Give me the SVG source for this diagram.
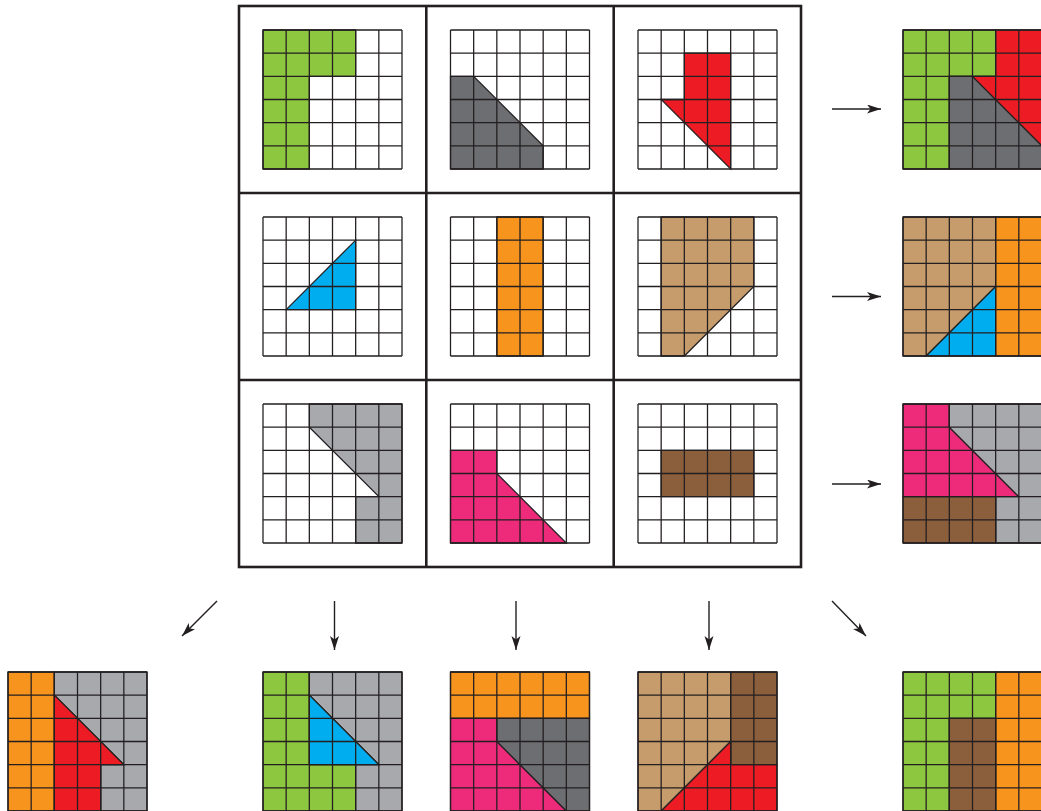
<svg xmlns="http://www.w3.org/2000/svg" xmlns:xlink="http://www.w3.org/1999/xlink" width="1041" height="811" viewBox="0 0 1041 811">
<style>
.s{stroke:#231F20;stroke-width:0.055;stroke-linejoin:miter}
.gr{fill:#8DC63F}.dg{fill:#6D6E71}.rd{fill:#ED1C24}.bl{fill:#00AEEF}.or{fill:#F7941D}
.tn{fill:#C69C6D}.lg{fill:#A7A9AC}.pk{fill:#EE2A7B}.br{fill:#8B5E3C}
.bg{fill:#FFFFFF}
.frame{fill:none;stroke:#231F20;stroke-width:2.6}
.arr{stroke:#231F20;stroke-width:1.4;fill:none;marker-end:url(#ah)}
</style>
<defs>
<marker id="ah" markerUnits="userSpaceOnUse" markerWidth="16" markerHeight="10" refX="14" refY="4.5" orient="auto">
<path d="M0,0 L14,4.5 L0,9 L3.5,4.5 z" fill="#231F20"/>
</marker>
<path id="grid" d="M0 0H6M0 1H6M0 2H6M0 3H6M0 4H6M0 5H6M0 6H6M0 0V6M1 0V6M2 0V6M3 0V6M4 0V6M5 0V6M6 0V6" fill="none" stroke="#231F20" stroke-width="0.055"/>
<rect id="blank" width="6" height="6" class="bg"/>
</defs>
<rect width="1041" height="811" fill="#FFFFFF"/>

<g id="frame">
<rect x="239" y="6" width="562" height="561" class="frame"/>
<line x1="426.3" y1="6" x2="426.3" y2="567" class="frame"/>
<line x1="613.7" y1="6" x2="613.7" y2="567" class="frame"/>
<line x1="239" y1="193" x2="801" y2="193" class="frame"/>
<line x1="239" y1="380" x2="801" y2="380" class="frame"/>
</g>

<g id="cell-r1c1" transform="translate(263,30) scale(23.1667)">
<use xlink:href="#blank"/>
<polygon class="gr s" points="0,0 4,0 4,2 2,2 2,6 0,6"/>
<use xlink:href="#grid"/>
</g>
<g id="cell-r1c2" transform="translate(450.5,30) scale(23.1667)">
<use xlink:href="#blank"/>
<polygon class="dg s" points="0,2 1,2 4,5 4,6 0,6"/>
<use xlink:href="#grid"/>
</g>
<g id="cell-r1c3" transform="translate(638,30) scale(23.1667)">
<use xlink:href="#blank"/>
<polygon class="rd s" points="2,1 4,1 4,6 1,3 2,3"/>
<use xlink:href="#grid"/>
</g>
<g id="result-r1" transform="translate(903,30) scale(23.1667)">
<use xlink:href="#blank"/>
<polygon class="gr s" points="0,0 4,0 4,2 2,2 2,6 0,6"/>
<polygon class="dg s" points="2,2 3,2 6,5 6,6 2,6"/>
<polygon class="rd s" points="4,0 6,0 6,5 3,2 4,2"/>
<use xlink:href="#grid"/>
</g>

<g id="cell-r2c1" transform="translate(263,217) scale(23.1667)">
<use xlink:href="#blank"/>
<polygon class="bl s" points="1,4 4,1 4,4"/>
<use xlink:href="#grid"/>
</g>
<g id="cell-r2c2" transform="translate(450.5,217) scale(23.1667)">
<use xlink:href="#blank"/>
<polygon class="or s" points="2,0 4,0 4,6 2,6"/>
<use xlink:href="#grid"/>
</g>
<g id="cell-r2c3" transform="translate(638,217) scale(23.1667)">
<use xlink:href="#blank"/>
<polygon class="tn s" points="1,0 5,0 5,3 2,6 1,6"/>
<use xlink:href="#grid"/>
</g>
<g id="result-r2" transform="translate(903,217) scale(23.1667)">
<use xlink:href="#blank"/>
<polygon class="tn s" points="0,0 4,0 4,3 1,6 0,6"/>
<polygon class="bl s" points="1,6 4,3 4,6"/>
<polygon class="or s" points="4,0 6,0 6,6 4,6"/>
<use xlink:href="#grid"/>
</g>

<g id="cell-r3c1" transform="translate(263,404) scale(23.1667)">
<use xlink:href="#blank"/>
<polygon class="lg s" points="2,0 6,0 6,6 4,6 4,4 5,4 2,1"/>
<use xlink:href="#grid"/>
</g>
<g id="cell-r3c2" transform="translate(450.5,404) scale(23.1667)">
<use xlink:href="#blank"/>
<polygon class="pk s" points="0,2 2,2 2,3 5,6 0,6"/>
<use xlink:href="#grid"/>
</g>
<g id="cell-r3c3" transform="translate(638,404) scale(23.1667)">
<use xlink:href="#blank"/>
<polygon class="br s" points="1,2 5,2 5,4 1,4"/>
<use xlink:href="#grid"/>
</g>
<g id="result-r3" transform="translate(903,404) scale(23.1667)">
<use xlink:href="#blank"/>
<polygon class="pk s" points="0,0 2,0 2,1 5,4 0,4"/>
<polygon class="lg s" points="2,0 6,0 6,6 4,6 4,4 5,4 2,1"/>
<polygon class="br s" points="0,4 4,4 4,6 0,6"/>
<use xlink:href="#grid"/>
</g>

<g id="result-antidiag" transform="translate(8,672) scale(23.1667)">
<use xlink:href="#blank"/>
<polygon class="or s" points="0,0 2,0 2,6 0,6"/>
<polygon class="lg s" points="2,0 6,0 6,6 4,6 4,4 5,4 2,1"/>
<polygon class="rd s" points="2,1 5,4 4,4 4,6 2,6"/>
<use xlink:href="#grid"/>
</g>
<g id="result-c1" transform="translate(263,672) scale(23.1667)">
<use xlink:href="#blank"/>
<polygon class="gr s" points="0,0 2,0 2,4 4,4 4,6 0,6"/>
<polygon class="lg s" points="2,0 6,0 6,6 4,6 4,4 5,4 2,1"/>
<polygon class="bl s" points="2,1 5,4 2,4"/>
<use xlink:href="#grid"/>
</g>
<g id="result-c2" transform="translate(450.5,672) scale(23.1667)">
<use xlink:href="#blank"/>
<polygon class="or s" points="0,0 6,0 6,2 0,2"/>
<polygon class="pk s" points="0,2 2,2 2,3 5,6 0,6"/>
<polygon class="dg s" points="2,2 6,2 6,6 5,6 2,3"/>
<use xlink:href="#grid"/>
</g>
<g id="result-c3" transform="translate(638,672) scale(23.1667)">
<use xlink:href="#blank"/>
<polygon class="tn s" points="0,0 4,0 4,3 1,6 0,6"/>
<polygon class="br s" points="4,0 6,0 6,4 4,4"/>
<polygon class="rd s" points="4,3 4,4 6,4 6,6 1,6"/>
<use xlink:href="#grid"/>
</g>
<g id="result-diag" transform="translate(903,672) scale(23.1667)">
<use xlink:href="#blank"/>
<polygon class="gr s" points="0,0 4,0 4,2 2,2 2,6 0,6"/>
<polygon class="or s" points="4,0 6,0 6,6 4,6"/>
<polygon class="br s" points="2,2 4,2 4,6 2,6"/>
<use xlink:href="#grid"/>
</g>

<g id="connectors">
<line x1="832" y1="109" x2="881" y2="109" class="arr"/>
<line x1="832" y1="296.5" x2="881" y2="296.5" class="arr"/>
<line x1="832" y1="484" x2="881" y2="484" class="arr"/>
<line x1="217" y1="601" x2="182" y2="636" class="arr"/>
<line x1="334.5" y1="601" x2="334.5" y2="650" class="arr"/>
<line x1="516" y1="601" x2="516" y2="650" class="arr"/>
<line x1="709" y1="601" x2="709" y2="650" class="arr"/>
<line x1="832" y1="601" x2="866" y2="636" class="arr"/>
</g>
</svg>
